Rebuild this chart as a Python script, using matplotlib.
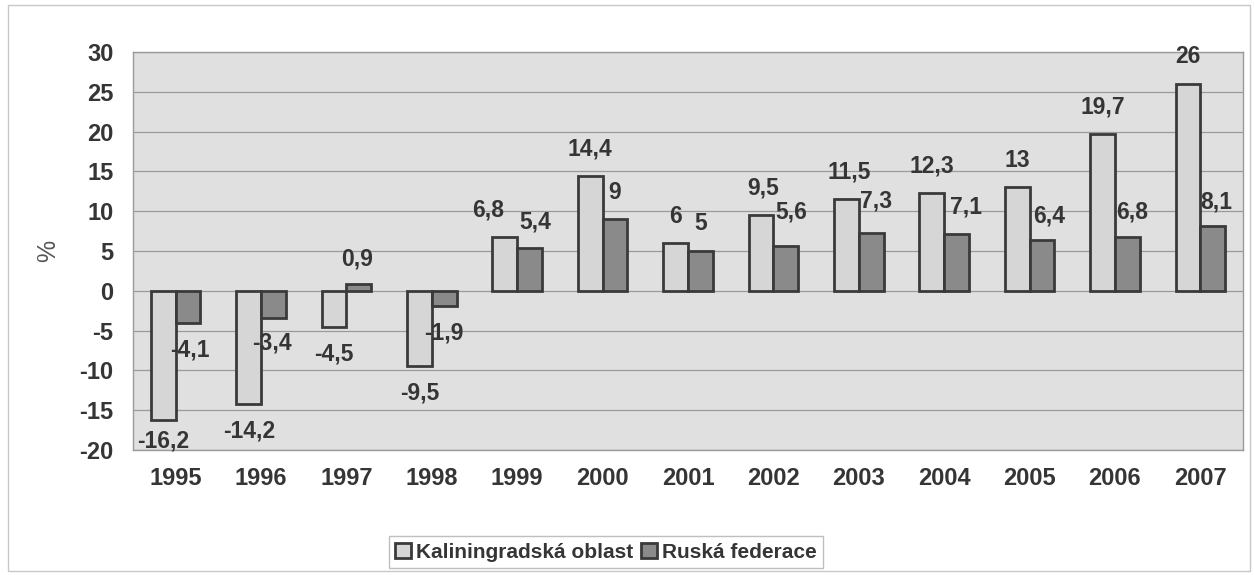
import matplotlib
matplotlib.use('Agg')
import matplotlib.pyplot as plt
import numpy as np
from matplotlib.patches import Rectangle

# data
years = ['1995', '1996', '1997', '1998', '1999', '2000', '2001',
         '2002', '2003', '2004', '2005', '2006', '2007']
kaliningrad = [-16.2, -14.2, -4.5, -9.5, 6.8, 14.4, 6, 9.5, 11.5, 12.3, 13, 19.7, 26]
rusko = [-4.1, -3.4, 0.9, -1.9, 5.4, 9, 5, 5.6, 7.3, 7.1, 6.4, 6.8, 8.1]
series_names = ['Kaliningradská oblast', 'Ruská federace']
yticks = [-20, -15, -10, -5, 0, 5, 10, 15, 20, 25, 30]

# label nudges in pixels (dx, extra dy) -- manual placement in the source chart
k_nudge = [(0, 6), (0, 0), (0, 0), (0, 0), (-17, 0), (0, 0), (0, 0),
           (2, 0), (3, 0), (0, 0), (0, 0), (0, 0), (0, 0)]
r_nudge = [(2, 0), (-2, 2), (-2, -2), (0, 0), (6, -1), (0, 0), (0, 0),
           (6, 7), (5, 5), (9, 0), (7, -3), (5, -2), (4, -3)]

TXT = '#353535'
plt.rcParams['font.family'] = ['Liberation Sans', 'DejaVu Sans']
plt.rcParams['font.weight'] = 'bold'

fig = plt.figure(figsize=(12.55, 5.75), dpi=100)
fig.patch.set_facecolor('white')
ax = fig.add_axes([133 / 1255, 1 - 450 / 575, 1110 / 1255, 398 / 575])
ax.set_facecolor('#e0e0e0')

x = np.arange(len(years))
w = 0.29
b1 = ax.bar(x - w / 2, kaliningrad, w, color='#d6d6d6', edgecolor='#3a3a3a',
            linewidth=2, label=series_names[0], zorder=3)
b2 = ax.bar(x + w / 2, rusko, w, color='#8a8a8a', edgecolor='#3a3a3a',
            linewidth=2, label=series_names[1], zorder=3)

def fmt(v):
    s = ('%g' % v).replace('.', ',')
    return s

for bars, vals, nud in ((b1, kaliningrad, k_nudge), (b2, rusko, r_nudge)):
    for bar, v, (dx, dy) in zip(bars, vals, nud):
        cx = bar.get_x() + bar.get_width() / 2
        off = 27 if v >= 0 else -27
        ax.annotate(fmt(v), (cx, v), xytext=(dx, off + dy),
                    textcoords='offset pixels', ha='center', va='center',
                    fontsize=16.5, fontweight='bold', color=TXT, zorder=5)

ax.set_xlim(-0.5, len(years) - 0.5)
ax.set_ylim(-20, 30)
ax.set_yticks(yticks)
ax.set_yticklabels([str(t) for t in yticks])
ax.set_xticks(x)
ax.set_xticklabels(years)
ax.tick_params(axis='y', length=0, pad=14, labelsize=17, labelcolor=TXT)
ax.tick_params(axis='x', length=0, pad=12, labelsize=17, labelcolor=TXT)
ax.grid(True, axis='y', color='#9a9a9a', linewidth=0.9, zorder=1)
ax.set_axisbelow(True)
for s in ax.spines.values():
    s.set_color('#9a9a9a')
    s.set_linewidth(1)

ax.set_ylabel('%', fontsize=18, color='#555555', labelpad=14)

leg = fig.legend(handles=[b1, b2], loc='center', bbox_to_anchor=(606 / 1255, 1 - 552 / 575),
                 ncol=2, frameon=True, fancybox=False, fontsize=15,
                 handlelength=0.75, handleheight=0.75, handletextpad=0.25,
                 columnspacing=0.4, borderpad=0.3, borderaxespad=0,
                 labelcolor=TXT)
leg.get_frame().set_edgecolor('#b0b0b0')
leg.get_frame().set_linewidth(1)

# outer chart border
fig.add_artist(Rectangle((8 / 1255, 4 / 575), 1242 / 1255, 566 / 575,
                         transform=fig.transFigure, fill=False,
                         edgecolor='#c8c8c8', linewidth=1))

fig.savefig('out.png', dpi=100, facecolor=fig.get_facecolor())
